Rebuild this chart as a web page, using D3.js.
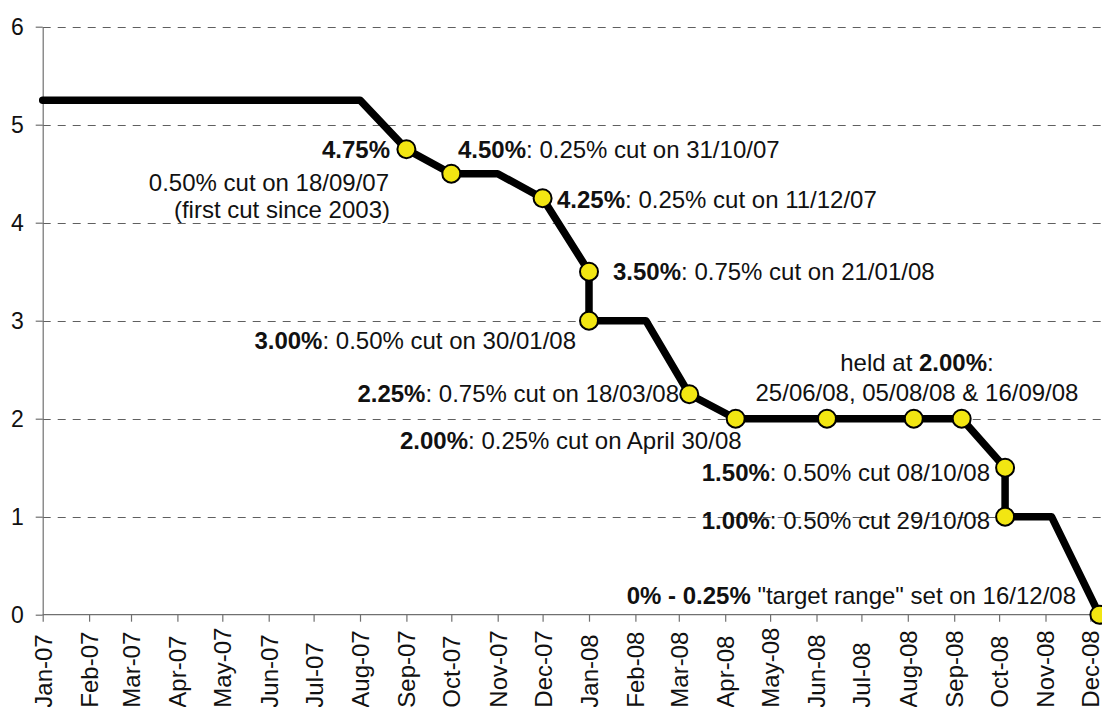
<!DOCTYPE html>
<html lang="en">
<head>
    <meta charset="UTF-8">
    <title>Fed funds target rate 2007-2008</title>
    <script src="https://cdn.jsdelivr.net/npm/d3@7"></script>
    <style>
        body { margin: 0; background: #fff; }
        svg { display: block; font-family: "Liberation Sans", Arial, sans-serif; }
        .grid line { stroke: #606060; stroke-width: 1; stroke-dasharray: 8,7; }
        .axis path, .axis line { stroke: #707070; stroke-width: 1.2; }
        .axis text { font-size: 23px; fill: #111; }
        .axis.x text { font-size: 24px; }
        .note { font-size: 24px; fill: #111; }
    </style>
</head>
<body>
<script>
    // rate path (bends included), markers only where a decision was made
    let dates = ["2007-01-01", "2007-08-01", "2007-09-01", "2007-10-01", "2007-11-01", "2007-12-01",
                 "2008-01-01", "2008-01-01", "2008-02-08", "2008-03-08", "2008-04-08", "2008-06-08",
                 "2008-08-05", "2008-09-06", "2008-10-05", "2008-10-05", "2008-11-05", "2008-12-07"];
    let rates = [5.25, 5.25, 4.75, 4.5, 4.5, 4.25, 3.5, 3.0, 3.0, 2.25, 2.0, 2.0, 2.0, 2.0, 1.5, 1.0, 1.0, 0];
    let isCut = [0, 0, 1, 1, 0, 1, 1, 1, 0, 1, 1, 1, 1, 1, 1, 1, 0, 1];

    let yTicks = [0, 1, 2, 3, 4, 5, 6];
    let monthTicks = d3.utcMonths(new Date(Date.UTC(2007, 0, 1)), new Date(Date.UTC(2008, 11, 2)));

    // annotation text: [bold?, text] pieces
    let notes = [
        {x: 390, y: 158, anchor: "end", parts: [[1, "4.75%"]]},
        {x: 389, y: 191, anchor: "end", parts: [[0, "0.50% cut on 18/09/07"]]},
        {x: 390, y: 218, anchor: "end", parts: [[0, "(first cut since 2003)"]]},
        {x: 458, y: 158, anchor: "start", parts: [[1, "4.50%"], [0, ": 0.25% cut on 31/10/07"]]},
        {x: 557, y: 208, anchor: "start", parts: [[1, "4.25%"], [0, ": 0.25% cut on 11/12/07"]]},
        {x: 613, y: 280, anchor: "start", parts: [[1, "3.50%"], [0, ": 0.75% cut on 21/01/08"]]},
        {x: 576, y: 349, anchor: "end", parts: [[1, "3.00%"], [0, ": 0.50% cut on 30/01/08"]]},
        {x: 679, y: 402, anchor: "end", parts: [[1, "2.25%"], [0, ": 0.75% cut on 18/03/08"]]},
        {x: 400, y: 449, anchor: "start", parts: [[1, "2.00%"], [0, ": 0.25% cut on April 30/08"]]},
        {x: 917, y: 371, anchor: "middle", parts: [[0, "held at "], [1, "2.00%"], [0, ":"]]},
        {x: 917, y: 401, anchor: "middle", parts: [[0, "25/06/08, 05/08/08 & 16/09/08"]]},
        {x: 990, y: 481, anchor: "end", parts: [[1, "1.50%"], [0, ": 0.50% cut 08/10/08"]]},
        {x: 990, y: 529, anchor: "end", parts: [[1, "1.00%"], [0, ": 0.50% cut 29/10/08"]]},
        {x: 1076, y: 604, anchor: "end", parts: [[1, "0% - 0.25%"], [0, " \"target range\" set on 16/12/08"]]}
    ];

    let w = 1102;
    let h = 707;

    let data = dates.map(function(d, i) {
        return {date: new Date(d + "T00:00:00Z"), rate: rates[i], cut: isCut[i]};
    });

    let x = d3.scaleUtc()
              .domain([new Date(Date.UTC(2007, 0, 1)), new Date(Date.UTC(2008, 11, 1))])
              .range([42.7, 1090.4]);
    let y = d3.scaleLinear().domain([0, 6]).range([614.7, 26.7]);

    let svg = d3.select('body')
                .append('svg')
                .attr('width', w)
                .attr('height', h);

    svg.append('g')
       .attr('class', 'grid')
       .selectAll('line')
       .data(yTicks.filter(function(d) { return d > 0; }))
       .enter()
       .append('line')
       .attr('x1', x.range()[0])
       .attr('x2', w)
       .attr('y1', function(d) { return Math.round(y(d)) + 0.5; })
       .attr('y2', function(d) { return Math.round(y(d)) + 0.5; });

    let xAxis = svg.append('g')
                   .attr('class', 'axis x')
                   .attr('transform', 'translate(0,' + y(0) + ')')
                   .call(d3.axisBottom(x).tickValues(monthTicks).tickFormat(d3.utcFormat('%b-%y')).tickSize(7).tickSizeOuter(0));
    xAxis.select('.domain').attr('d', 'M' + x.range()[0] + ',0H' + w);
    xAxis.selectAll('text')
         .attr('transform', 'rotate(-90)')
         .attr('text-anchor', 'start')
         .attr('x', -93)
         .attr('y', 0)
         .attr('dy', '0.35em');

    svg.append('g')
       .attr('class', 'axis')
       .attr('transform', 'translate(' + x.range()[0] + ',0)')
       .call(d3.axisLeft(y).tickValues(yTicks).tickFormat(d3.format('d')).tickSize(7).tickSizeOuter(0).tickPadding(12));

    let line = d3.line()
                 .x(function(d) { return x(d.date); })
                 .y(function(d) { return y(d.rate); });

    svg.append('path')
       .datum(data)
       .attr('d', line)
       .attr('fill', 'none')
       .attr('stroke', '#000')
       .attr('stroke-width', 7.5)
       .attr('stroke-linejoin', 'round')
       .attr('stroke-linecap', 'round');

    svg.selectAll('circle')
       .data(data.filter(function(d) { return d.cut; }))
       .enter()
       .append('circle')
       .attr('cx', function(d) { return x(d.date); })
       .attr('cy', function(d) { return y(d.rate); })
       .attr('r', 9)
       .attr('fill', '#f2e612')
       .attr('stroke', '#000')
       .attr('stroke-width', 2);

    let txt = svg.selectAll('text.note')
                 .data(notes)
                 .enter()
                 .append('text')
                 .attr('class', 'note')
                 .attr('x', function(d) { return d.x; })
                 .attr('y', function(d) { return d.y; })
                 .attr('text-anchor', function(d) { return d.anchor; });

    txt.selectAll('tspan')
       .data(function(d) { return d.parts; })
       .enter()
       .append('tspan')
       .attr('font-weight', function(p) { return p[0] ? 'bold' : 'normal'; })
       .text(function(p) { return p[1]; });
</script>
</body>
</html>
